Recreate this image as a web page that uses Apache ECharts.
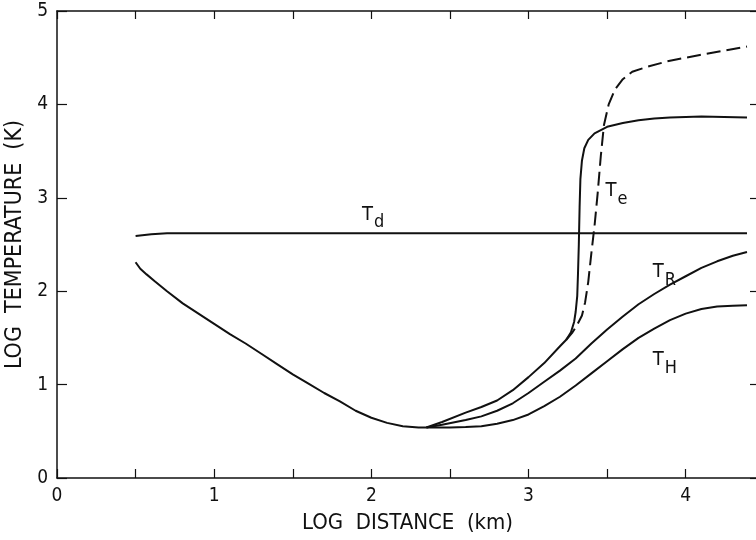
<!DOCTYPE html>
<html>
<head>
<meta charset="utf-8">
<script src="https://cdn.jsdelivr.net/npm/echarts@6/dist/echarts.min.js"></script>
<style>
  html, body { margin: 0; padding: 0; background: #fff; }
  #chart { width: 756px; height: 540px; }
</style>
</head>
<body>
<div id="chart"></div>
<script>
// shared falling branch (before the curves split)
var lowDist = [0.5, 0.53, 0.57, 0.62, 0.7, 0.8, 0.9, 1.0, 1.1, 1.2, 1.3, 1.4, 1.5, 1.6, 1.7, 1.8, 1.9, 2.0, 2.1, 2.2, 2.3, 2.35];
var lowTemp = [2.31, 2.24, 2.18, 2.11, 2.0, 1.87, 1.76, 1.65, 1.54, 1.44, 1.33, 1.22, 1.11, 1.01, 0.91, 0.82, 0.72, 0.645, 0.59, 0.555, 0.54, 0.54];

var thDist = [2.35, 2.5, 2.6, 2.7, 2.8, 2.9, 3.0, 3.1, 3.2, 3.3, 3.4, 3.5, 3.6, 3.7, 3.8, 3.9, 4.0, 4.1, 4.2, 4.3, 4.39];
var thTemp = [0.54, 0.54, 0.545, 0.555, 0.58, 0.62, 0.68, 0.77, 0.87, 0.99, 1.12, 1.25, 1.38, 1.5, 1.6, 1.69, 1.76, 1.81, 1.835, 1.845, 1.85];

var trDist = [2.35, 2.45, 2.6, 2.7, 2.8, 2.9, 3.0, 3.1, 3.2, 3.3, 3.4, 3.5, 3.6, 3.7, 3.8, 3.9, 4.0, 4.1, 4.2, 4.3, 4.39];
var trTemp = [0.54, 0.57, 0.62, 0.66, 0.72, 0.8, 0.91, 1.03, 1.15, 1.28, 1.44, 1.59, 1.73, 1.86, 1.97, 2.07, 2.16, 2.25, 2.32, 2.38, 2.42];

// solid T_e
var teDist = [2.35, 2.45, 2.6, 2.7, 2.8, 2.9, 3.0, 3.1, 3.2, 3.24, 3.27, 3.29, 3.3, 3.31, 3.315, 3.32, 3.325, 3.33, 3.34, 3.355, 3.38, 3.42, 3.5, 3.6, 3.7, 3.8, 3.9, 4.1, 4.39];
var teTemp = [0.54, 0.6, 0.7, 0.76, 0.83, 0.94, 1.08, 1.23, 1.41, 1.48, 1.56, 1.67, 1.78, 1.95, 2.2, 2.5, 2.9, 3.2, 3.4, 3.53, 3.62, 3.69, 3.76, 3.8, 3.83, 3.85, 3.86, 3.87, 3.86];

// dashed T_e
var teDashDist = [3.24, 3.28, 3.31, 3.34, 3.36, 3.38, 3.4, 3.42, 3.44, 3.46, 3.48, 3.51, 3.55, 3.6, 3.66, 3.75, 3.88, 4.09, 4.39];
var teDashTemp = [1.48, 1.56, 1.64, 1.74, 1.88, 2.1, 2.41, 2.7, 3.05, 3.45, 3.78, 4.0, 4.16, 4.27, 4.35, 4.4, 4.46, 4.53, 4.62];

var tdDist = [0.5, 0.6, 0.7, 1, 2, 3, 4, 4.39];
var tdTemp = [2.59, 2.61, 2.62, 2.62, 2.62, 2.62, 2.62, 2.62];

// curve labels: main letter, subscript, position (data coords, top-left)
var labelMain = ['T', 'T', 'T', 'T'];
var labelSub = ['d', 'e', 'R', 'H'];
var labelDist = [1.94, 3.49, 3.79, 3.79];
var labelTemp = [2.93, 3.18, 2.31, 1.37];

var ink = '#111';
var font = "'Liberation Sans Narrow', 'DejaVu Sans Condensed', 'Liberation Sans', sans-serif";

function pairs(xs, ys) {
  return xs.map(function (x, i) { return [x, ys[i]]; });
}

function lineSeries(xs, ys, dashed) {
  return {
    type: 'line',
    data: pairs(xs, ys),
    showSymbol: false,
    smooth: false,
    lineStyle: { color: ink, width: 2, type: dashed ? [14, 6] : 'solid' },
    silent: true
  };
}

var chart = echarts.init(document.getElementById('chart'));
var option = {
  animation: false,
  backgroundColor: '#fff',
  grid: { left: 57, right: -2, top: 11, bottom: 62, outerBoundsMode: 'none', containLabel: false },
  xAxis: [
    {
      type: 'value', position: 'bottom', min: 0, max: 4.46, interval: 0.5,
      name: 'LOG  DISTANCE  (km)', nameLocation: 'middle', nameGap: 34,
      nameTextStyle: { color: ink, fontSize: 22, fontFamily: font },
      axisLine: { onZero: false, lineStyle: { color: ink, width: 1.5 } },
      axisTick: { inside: true, length: 9, lineStyle: { color: ink, width: 1.2 } },
      axisLabel: {
        color: ink, fontSize: 19, fontFamily: font, margin: 9,
        formatter: function (v) { return Number.isInteger(v) ? String(v) : ''; }
      },
      splitLine: { show: false }
    },
    {
      type: 'value', position: 'top', min: 0, max: 4.46, interval: 0.5,
      axisLine: { onZero: false, lineStyle: { color: ink, width: 1.5 } },
      axisTick: { inside: true, length: 8, lineStyle: { color: ink, width: 1.2 } },
      axisLabel: { show: false },
      splitLine: { show: false }
    }
  ],
  yAxis: [
    {
      type: 'value', position: 'left', min: 0, max: 5, interval: 1,
      name: 'LOG  TEMPERATURE  (K)', nameLocation: 'middle', nameGap: 28, nameRotate: 90,
      nameTextStyle: { color: ink, fontSize: 23, fontFamily: font },
      axisLine: { onZero: false, lineStyle: { color: ink, width: 1.5 } },
      axisTick: { inside: true, length: 10, lineStyle: { color: ink, width: 1.2 } },
      axisLabel: { color: ink, fontSize: 19, fontFamily: font, margin: 9 },
      splitLine: { show: false }
    },
    {
      type: 'value', position: 'right', min: 0, max: 5, interval: 1,
      axisLine: { show: true, onZero: false, lineStyle: { color: ink, width: 1.5 } },
      axisTick: { inside: true, length: 8, lineStyle: { color: ink, width: 1.2 } },
      axisLabel: { show: false },
      splitLine: { show: false }
    }
  ],
  series: [
    lineSeries(tdDist, tdTemp),
    lineSeries(lowDist, lowTemp),
    lineSeries(thDist, thTemp),
    lineSeries(trDist, trTemp),
    lineSeries(teDist, teTemp),
    lineSeries(teDashDist, teDashTemp, true)
  ]
};
chart.setOption(option);

// curve name labels with subscripts
var graphics = labelMain.map(function (m, i) {
  var p = chart.convertToPixel({ gridIndex: 0 }, [labelDist[i], labelTemp[i]]);
  return {
    type: 'text', x: p[0], y: p[1], silent: true,
    style: {
      text: '{a|' + m + '}{b|' + labelSub[i] + '}',
      align: 'left', verticalAlign: 'top',
      rich: {
        a: { fontSize: 20, fontFamily: font, fill: ink, padding: [0, 1, 8, 0] },
        b: { fontSize: 18, fontFamily: font, fill: ink, padding: [8, 0, 0, 0] }
      }
    }
  };
});
chart.setOption({ graphic: graphics });
</script>
</body>
</html>
